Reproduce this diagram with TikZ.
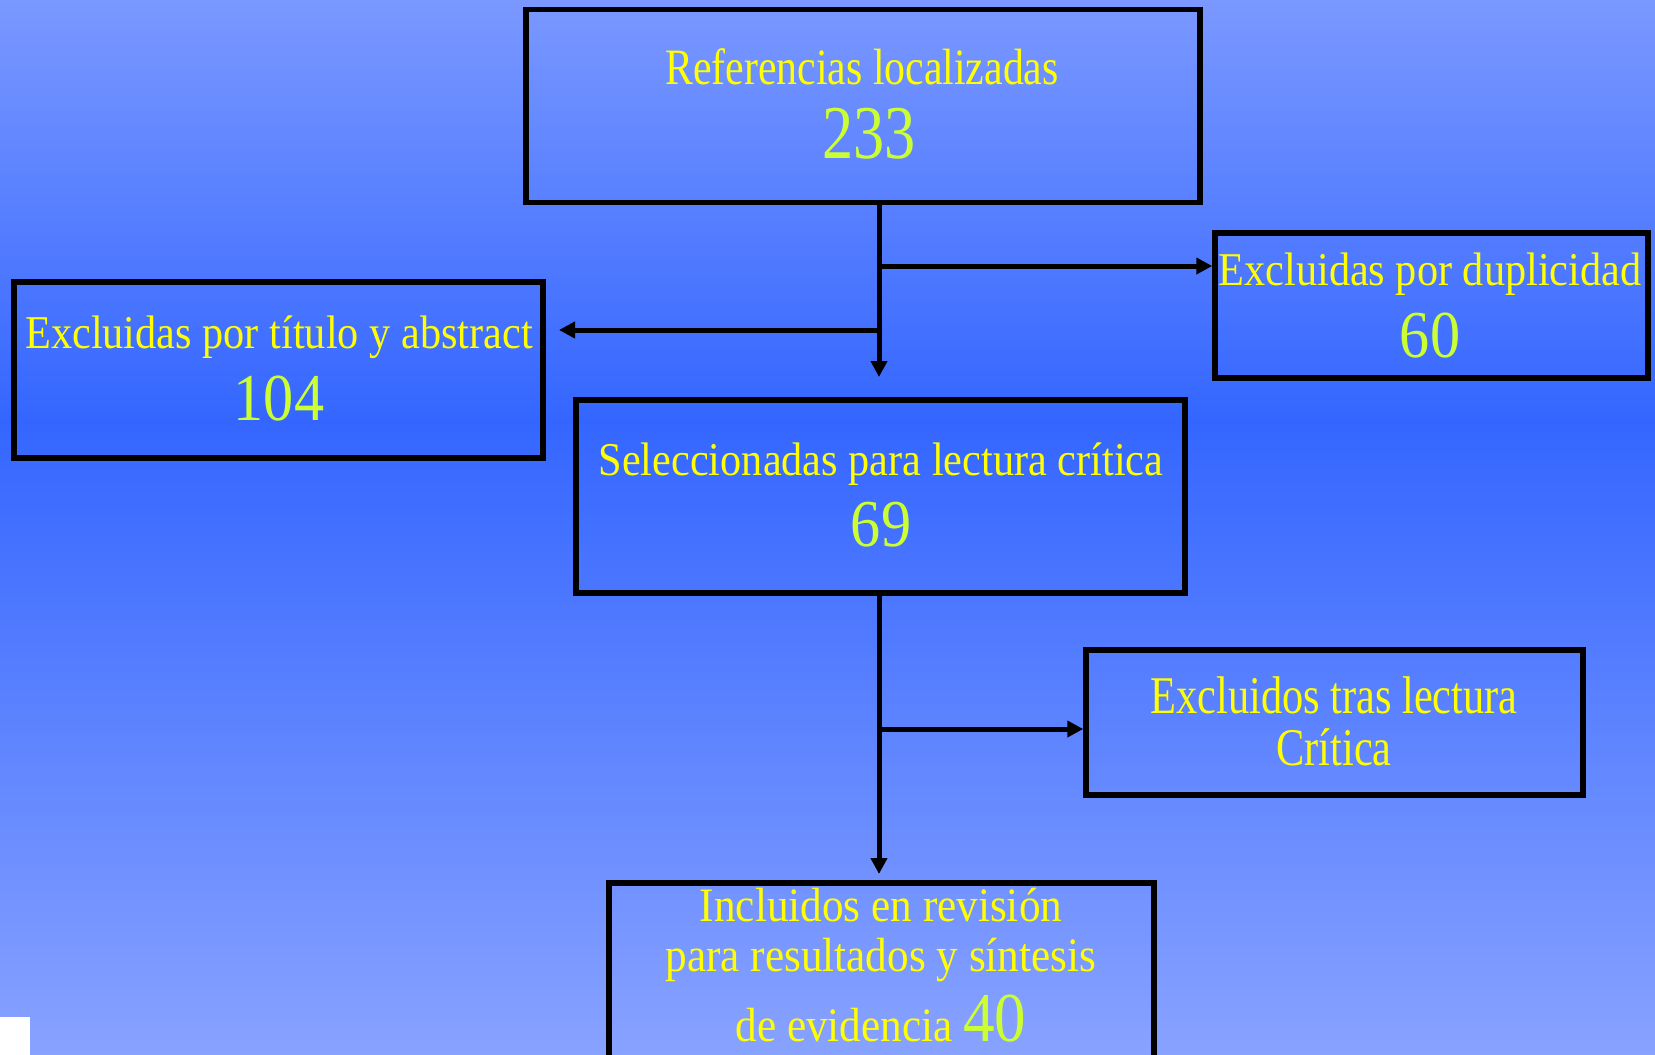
\documentclass[tikz,border=0pt]{standalone}
\usepackage{fontspec}
\setmainfont{Liberation Serif}
\newfontfamily\fnorm[FakeStretch=0.9]{Liberation Serif}
\newfontfamily\fcond[FakeStretch=0.82]{Liberation Serif}
\newfontfamily\fcondb[FakeStretch=0.8]{Liberation Serif}
\usetikzlibrary{arrows.meta}
\definecolor{bgtop}{RGB}{122,152,255}
\definecolor{bgmid}{RGB}{52,102,255}
\definecolor{bgbot}{RGB}{136,162,255}
\definecolor{txtyellow}{RGB}{255,255,0}
\definecolor{numgreen}{RGB}{204,255,51}
\newcommand{\fsz}[1]{\fontsize{#1}{#1}\selectfont}
\tikzset{
  boxnode/.style={draw=black, line width=5.5pt, rectangle, inner sep=0pt},
  lbl/.style={inner sep=0pt, anchor=base, text=txtyellow},
  num/.style={inner sep=0pt, anchor=base, text=numgreen},
  conn/.style={draw=black, line width=5pt},
  arr/.style={conn, -{Triangle[length=16pt,width=16pt]}}
}
\begin{document}
\begin{tikzpicture}[x=1pt,y=-1pt]
\clip (0,0) rectangle (1655,1055);
\shade[top color=bgtop, bottom color=bgmid] (0,0) rectangle (1655,420);
\shade[top color=bgmid, bottom color=bgbot] (0,419.5) rectangle (1655,1055);
\fill[white] (0,1017) rectangle (30,1055);

% boxes
\node[boxnode, minimum width=674pt, minimum height=193pt] (ref) at (863,106) {};
\node[boxnode, minimum width=433pt, minimum height=145pt] (dup) at (1431.5,305.5) {};
\node[boxnode, minimum width=529pt, minimum height=176pt] (tit) at (278.5,370) {};
\node[boxnode, minimum width=609pt, minimum height=193pt] (sel) at (880.5,496.5) {};
\node[boxnode, minimum width=497pt, minimum height=145pt] (exc) at (1334.5,722.5) {};
\node[boxnode, minimum width=545pt, minimum height=200pt, anchor=north] (inc) at (881.5,880) {};

% texts
\node[lbl, font=\fcond\fsz{51}] (refT) at (862,84) {Referencias localizadas};
\node[num, font=\fcond\fsz{76}] (refN) at (869,158) {233};

\node[lbl, font=\fnorm\fsz{47}] (dupT) at (1430,285) {Excluidas por duplicidad};
\node[num, font=\fnorm\fsz{67}] (dupN) at (1430,357) {60};

\node[lbl, font=\fnorm\fsz{47}] (titT) at (279,348) {Excluidas por título y abstract};
\node[num, font=\fnorm\fsz{67}] (titN) at (279,420) {104};

\node[lbl, font=\fnorm\fsz{47}] (selT) at (881,475) {Seleccionadas para lectura crítica};
\node[num, font=\fnorm\fsz{67}] (selN) at (881,546) {69};

\node[lbl, font=\fcondb\fsz{53}] (excT1) at (1334,713) {Excluidos tras lectura};
\node[lbl, font=\fcondb\fsz{53}] (excT2) at (1334,765) {Crítica};

\node[lbl, font=\fnorm\fsz{48}] (incT1) at (881,921) {Incluidos en revisión};
\node[lbl, font=\fnorm\fsz{48}] (incT2) at (881,971) {para resultados y síntesis};
\node[lbl, font=\fnorm\fsz{48}] (incT3) at (881,1041) {de evidencia {\color{numgreen}\fsz{70}40}};

% connectors
\coordinate (j1) at (879,266);
\coordinate (j2) at (879,330);
\coordinate (endA) at (879,377);
\coordinate (endL) at (559,330);
\coordinate (j3) at (879,729);
\coordinate (endB) at (879,874);

\draw[arr] (ref.south -| j1) -- (endA);
\draw[arr] (j1) -- (j1 -| dup.west);
\draw[arr] (j2) -- (endL);
\draw[arr] (sel.south -| j3) -- (endB);
\draw[arr] (j3) -- (j3 -| exc.west);
\end{tikzpicture}
\end{document}
